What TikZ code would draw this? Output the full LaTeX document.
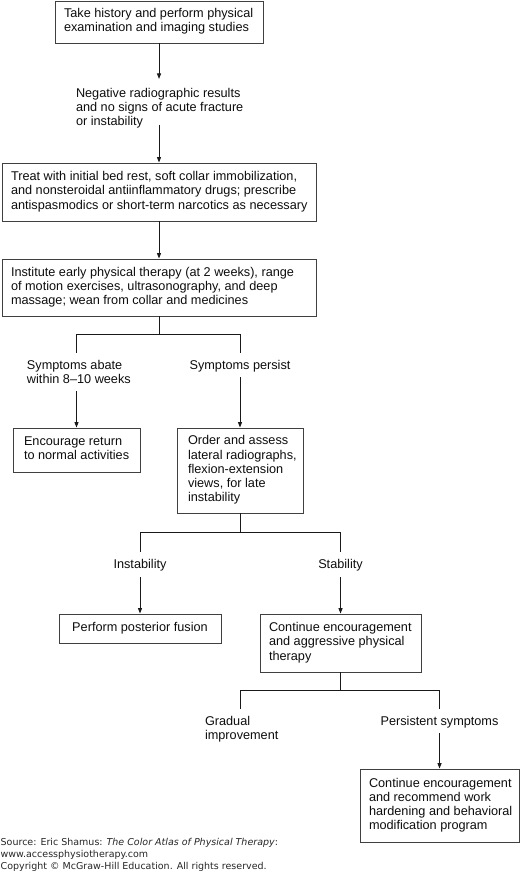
\documentclass[tikz,border=0pt]{standalone}
\usepackage{fontspec}
\setmainfont{Liberation Sans}
\newfontfamily\footfont{DejaVu Sans}
\usetikzlibrary{arrows.meta}
\newcommand\mylines[1]{\begin{tabular}{@{}l@{}}#1\end{tabular}}
\newcommand\myboxtext[2]{\makebox[#1][l]{\mylines{#2}}}
\begin{document}
\begin{tikzpicture}[x=1pt,y=-1pt,
  txt/.style={font=\fontsize{12.7}{14.2}\selectfont, text=black!95, inner sep=0pt, outer sep=0pt},
  box/.style={txt, draw=black!75, line width=0.8pt, inner xsep=9pt, inner ysep=0pt, outer sep=0.4pt},
  ln/.style={line width=1pt, black!90},
  arr/.style={ln, -{Triangle[length=5.5pt,width=4pt]}}]
\useasboundingbox (0,0) rectangle (520,885);

% boxes
\node[box, minimum height=42pt] (b1) at (159,22) {\myboxtext{190pt}{Take history and perform physical\\examination and imaging studies}};
\node[txt, anchor=north west] (n1) at (76,87.3) {\mylines{Negative radiographic results\\and no signs of acute fracture\\or instability}};
\node[box, minimum height=58pt] (b2) at (159,192) {\myboxtext{296pt}{Treat with initial bed rest, soft collar immobilization,\\and nonsteroidal antiinflammatory drugs; prescribe\\antispasmodics or short-term narcotics as necessary}};
\node[box, minimum height=57pt] (b3) at (159,287.5) {\myboxtext{296pt}{Institute early physical therapy (at 2 weeks), range\\of motion exercises, ultrasonography, and deep\\massage; wean from collar and medicines}};

\node[txt, anchor=north west] (la) at (27,359.3) {\mylines{Symptoms abate\\within 8–10 weeks}};
\node[txt, anchor=north] (sp) at (240,359.3) {\mylines{Symptoms persist}};
\node[box, inner xsep=11pt, minimum height=44pt] (enc) at (76.5,450) {\myboxtext{105pt}{Encourage return\\to normal activities}};
\node[box, inner xsep=11pt, minimum height=85pt] (ord) at (240,470.5) {\myboxtext{104pt}{Order and assess\\lateral radiographs,\\flexion-extension\\views, for late\\instability}};

\node[txt, anchor=north] (ins) at (140,558.3) {\mylines{Instability}};
\node[txt, anchor=north] (sta) at (340.5,558.3) {\mylines{Stability}};
\node[box, minimum width=162pt, minimum height=29pt, inner xsep=0pt] (fus) at (140,628.5) {\mylines{Perform posterior fusion}};
\node[box, minimum height=58pt] (cont) at (340.5,643) {\myboxtext{143pt}{Continue encouragement\\and aggressive physical\\therapy}};

\node[txt, anchor=north west] (gr) at (205,715.3) {\mylines{Gradual\\improvement}};
\node[txt, anchor=north] (ps) at (439.5,715.3) {\mylines{Persistent symptoms}};
\node[box, minimum height=73pt] (fin) at (439.5,805.5) {\myboxtext{141pt}{Continue encouragement\\and recommend work\\hardening and behavioral\\modification program}};

\node[anchor=north west, inner sep=0pt, text=black!85, font=\footfont\fontsize{9.5}{12}\selectfont] (src) at (0.5,837.2) {\mylines{Source: Eric Shamus: \textit{The Color Atlas of Physical Therapy}:\\www.accessphysiotherapy.com\\Copyright © McGraw-Hill Education. All rights reserved.}};

% junctions
\coordinate (j1) at (159,334);
\coordinate (j1l) at (76.5,334);
\coordinate (j1r) at (240,334);
\coordinate (j2) at (240,532);
\coordinate (j2l) at (140,532);
\coordinate (j2r) at (340.5,532);
\coordinate (j3) at (340.5,690);
\coordinate (j3l) at (240,690);
\coordinate (j3r) at (439.5,690);

% connectors
\draw[arr] (b1.south) -- ([yshift=8.3pt]n1.north -| b1.south);
\draw[arr] ([yshift=4.9pt]n1.south -| b2.north) -- (b2.north);
\draw[arr] (b2.south) -- (b3.north);

\draw[ln] (b3.south) -- (j1);
\draw[ln] (j1l) -- (j1r);
\draw[ln] (j1l) -- ([yshift=6.3pt]la.north -| j1l);
\draw[ln] (j1r) -- ([yshift=6.3pt]sp.north -| j1r);
\draw[arr] ([yshift=-3.3pt]la.south -| enc.north) -- (enc.north);
\draw[arr] ([yshift=-3.5pt]sp.south -| ord.north) -- (ord.north);

\draw[ln] (ord.south) -- (j2);
\draw[ln] (j2l) -- (j2r);
\draw[ln] (j2l) -- ([yshift=6.3pt]ins.north -| j2l);
\draw[ln] (j2r) -- ([yshift=6.3pt]sta.north -| j2r);
\draw[arr] ([yshift=-4.5pt]ins.south -| fus.north) -- (fus.north);
\draw[arr] ([yshift=-4.5pt]sta.south -| cont.north) -- (cont.north);

\draw[ln] (cont.south) -- (j3);
\draw[ln] (j3l) -- (j3r);
\draw[ln] (j3l) -- ([yshift=6.3pt]gr.north -| j3l);
\draw[ln] (j3r) -- ([yshift=6.3pt]ps.north -| j3r);
\draw[arr] ([yshift=-3.5pt]ps.south -| fin.north) -- (fin.north);
\end{tikzpicture}
\end{document}
